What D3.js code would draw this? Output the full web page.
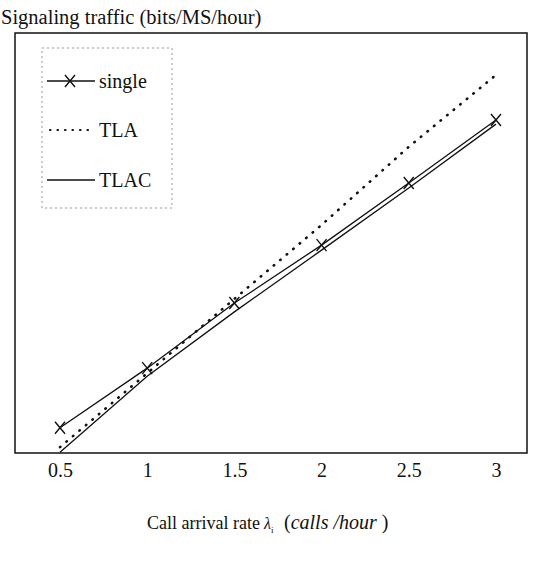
<!DOCTYPE html>
<html>
<head>
<meta charset="utf-8">
<script src="https://cdn.jsdelivr.net/npm/d3@7"></script>
<style>
  body { margin: 0; background: #fff; }
  svg { font-family: "Liberation Serif", "Times New Roman", serif; }
</style>
</head>
<body>
<svg id="chart" width="546" height="569"></svg>
<script>
const rates = [0.5, 1, 1.5, 2, 2.5, 3];
const tickLabels = ["0.5", "1", "1.5", "2", "2.5", "3"];
const single = [6.0, 20.2, 35.7, 49.5, 64.3, 79.3];
const tla = [1.4, 19.0, 36.7, 54.3, 72.9, 90.0];
const tlac = [0.2, 18.3, 33.6, 48.3, 63.1, 78.3];

const svg = d3.select("#chart");
const frame = { left: 15, top: 33, right: 527, bottom: 453 };

const x = d3.scaleLinear()
  .domain([0.242, 3.178])
  .range([frame.left, frame.right]);

const y = d3.scaleLinear()
  .domain([0, 100])
  .range([frame.bottom, frame.top]);

// plot frame
svg.append("rect")
  .attr("x", frame.left)
  .attr("y", frame.top)
  .attr("width", frame.right - frame.left)
  .attr("height", frame.bottom - frame.top)
  .attr("fill", "none")
  .attr("stroke", "#111")
  .attr("stroke-width", 1.5);

// x tick labels, the frame already draws the axis line
const xAxis = svg.append("g")
  .attr("transform", `translate(0,${frame.bottom})`)
  .call(d3.axisBottom(x).tickValues(rates).tickSize(0).tickPadding(10)
    .tickFormat((d, i) => tickLabels[i]));
xAxis.select(".domain").remove();
xAxis.selectAll("text")
  .style("font-family", "Liberation Serif")
  .style("font-size", "20px")
  .attr("fill", "#111");

const line = d3.line()
  .x((d, i) => x(rates[i]))
  .y(d => y(d));

svg.append("path")
  .datum(tlac)
  .attr("d", line)
  .attr("fill", "none")
  .attr("stroke", "#111")
  .attr("stroke-width", 1.3);

svg.append("path")
  .datum(single)
  .attr("d", line)
  .attr("fill", "none")
  .attr("stroke", "#111")
  .attr("stroke-width", 1.3);

svg.append("path")
  .datum(tla)
  .attr("d", line)
  .attr("fill", "none")
  .attr("stroke", "#111")
  .attr("stroke-width", 2.6)
  .attr("stroke-linecap", "round")
  .attr("stroke-dasharray", "0.5,8");

function cross(g, cx, cy) {
  g.append("path")
    .attr("d", `M${cx - 5},${cy - 6}L${cx + 5},${cy + 6}M${cx + 5},${cy - 6}L${cx - 5},${cy + 6}`)
    .attr("stroke", "#111")
    .attr("stroke-width", 1.4)
    .attr("fill", "none");
}

const marks = svg.append("g");
single.forEach((d, i) => cross(marks, x(rates[i]), y(d)));

// legend
const legend = svg.append("g");
legend.append("rect")
  .attr("x", 42).attr("y", 48)
  .attr("width", 130).attr("height", 160)
  .attr("fill", "#fff")
  .attr("stroke", "#999")
  .attr("stroke-width", 1)
  .attr("stroke-dasharray", "2,3");

const items = [
  { name: "single", y: 81, style: "cross" },
  { name: "TLA", y: 130, style: "dot" },
  { name: "TLAC", y: 180, style: "solid" }
];

items.forEach(it => {
  const l = legend.append("line")
    .attr("x1", 47).attr("x2", 95)
    .attr("y1", it.y).attr("y2", it.y)
    .attr("stroke", "#111");
  if (it.style === "dot") {
    l.attr("x1", 50).attr("stroke-width", 2.2).attr("stroke-linecap", "round").attr("stroke-dasharray", "0.5,7");
  } else {
    l.attr("stroke-width", 1.3);
  }
  if (it.style === "cross") cross(legend, 70, it.y);
  legend.append("text")
    .attr("x", 99).attr("y", it.y + 7)
    .style("font-size", "20px")
    .attr("fill", "#111")
    .text(it.name);
});

// titles
svg.append("text")
  .attr("x", 1).attr("y", 24)
  .style("font-size", "20.5px")
  .attr("fill", "#111")
  .text("Signaling traffic (bits/MS/hour)");

svg.append("text")
  .attr("x", 147).attr("y", 529)
  .style("font-size", "18px")
  .attr("fill", "#111")
  .text("Call arrival rate");

const lam = svg.append("text")
  .attr("x", 264).attr("y", 529)
  .style("font-size", "16px")
  .attr("fill", "#111");
lam.append("tspan").style("font-style", "italic").text("λ");
lam.append("tspan").attr("dy", 4).style("font-size", "9px").text("i");

const unit = svg.append("text")
  .attr("x", 284).attr("y", 529)
  .style("font-size", "20px")
  .attr("fill", "#111");
unit.append("tspan").text("(");
unit.append("tspan").style("font-style", "italic").text("calls /hour");
unit.append("tspan").text(" )");
</script>
</body>
</html>
